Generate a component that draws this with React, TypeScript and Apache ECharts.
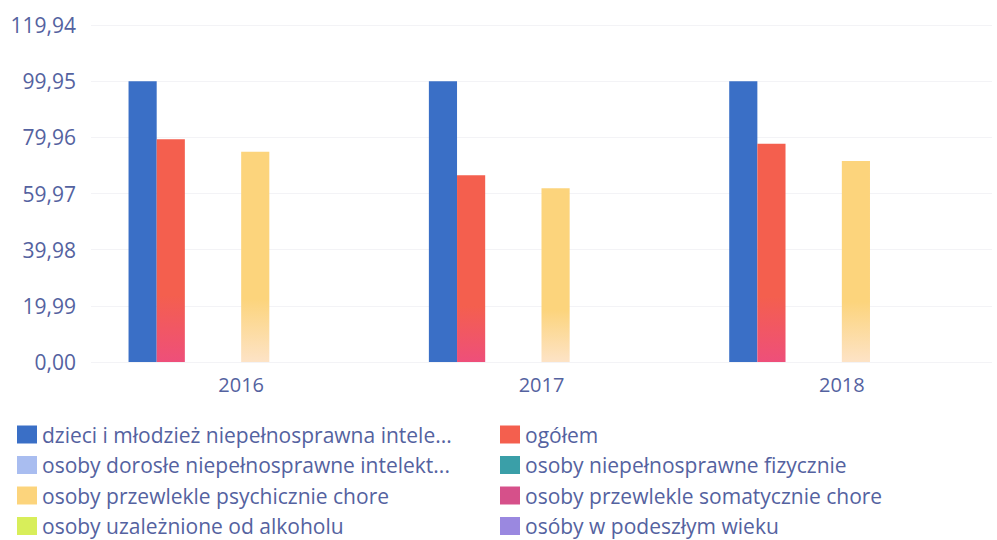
import React, { useEffect, useRef } from "react";
import * as echarts from "echarts";

const categories = ["2016", "2017", "2018"];
const seriesNames = [
  "dzieci i młodzież niepełnosprawna intelektualnie",
  "ogółem",
  "osoby dorosłe niepełnosprawne intelektualnie",
  "osoby niepełnosprawne fizycznie",
  "osoby przewlekle psychicznie chore",
  "osoby przewlekle somatycznie chore",
  "osoby uzależnione od alkoholu",
  "osóby w podeszłym wieku",
];
const legendLabels = [
  "dzieci i młodzież niepełnosprawna intele...",
  "ogółem",
  "osoby dorosłe niepełnosprawne intelekt...",
  "osoby niepełnosprawne fizycznie",
  "osoby przewlekle psychicznie chore",
  "osoby przewlekle somatycznie chore",
  "osoby uzależnione od alkoholu",
  "osóby w podeszłym wieku",
];
const dzieci = [99.95, 99.95, 99.95];
const ogolem = [79.3, 66.5, 77.7];
const dorosle = [null, null, null];
const fizyczne = [null, null, null];
const psychiczne = [74.8, 61.8, 71.5];
const somatyczne = [null, null, null];
const alkohol = [null, null, null];
const podeszly = [null, null, null];
const seriesValues = [dzieci, ogolem, dorosle, fizyczne, psychiczne, somatyczne, alkohol, podeszly];
const yTicks = [0, 19.99, 39.98, 59.97, 79.96, 99.95, 119.94];

const topColors = ["#3a6fc6", "#f45f4e", "#a9bdf0", "#3a9fa8", "#fcd47c", "#d6508a", "#d8ee5a", "#9a88e0"];
const bottomColors = ["#3a6fc6", "#ee4f7a", "#a9bdf0", "#3a9fa8", "#fde3c6", "#d6508a", "#d8ee5a", "#9a88e0"];

export default function App() {
  const ref = useRef<HTMLDivElement>(null);
  useEffect(() => {
    document.body.style.margin = "0";
    const chart = echarts.init(ref.current!, null, { renderer: "svg" });
    const textColor = "#5462a0";
    const font = "'Open Sans', 'Noto Sans', sans-serif";
    const series = seriesNames.map((name, i) => ({
      name,
      type: "bar",
      data: seriesValues[i],
      barGap: "0%",
      barCategoryGap: "25%",
      itemStyle: {
        color: new echarts.graphic.LinearGradient(0, 0, 0, 1, [
          { offset: 0, color: topColors[i] },
          { offset: 0.7, color: topColors[i] },
          { offset: 1, color: bottomColors[i] },
        ]),
      },
    }));
    const legendItem = (idx: number[]) =>
      idx.map((i) => ({ name: seriesNames[i], itemStyle: { color: topColors[i] } }));
    const fmt = (n: string) => legendLabels[seriesNames.indexOf(n)];
    const legendCommon = {
      orient: "vertical",
      top: 424,
      height: 125,
      padding: 0,
      itemWidth: 20,
      itemHeight: 18,
      itemGap: 9.5,
      icon: "rect",
      formatter: fmt,
      textStyle: { color: textColor, fontSize: 21, lineHeight: 20, fontFamily: font },
      selectedMode: false,
    };
    chart.setOption({
      animation: false,
      backgroundColor: "#ffffff",
      grid: { left: 91, right: 5, top: 25, bottom: 178, containLabel: false },
      xAxis: {
        type: "category",
        data: categories,
        axisLine: { show: false },
        axisTick: { show: false },
        axisLabel: { color: textColor, fontSize: 20, fontFamily: font, margin: 12 },
      },
      yAxis: {
        type: "value",
        min: 0,
        max: yTicks[yTicks.length - 1],
        interval: yTicks[1],
        axisLine: { show: false },
        axisTick: { show: false },
        splitLine: { lineStyle: { color: "#f3f3f6" } },
        axisLabel: {
          color: textColor,
          fontSize: 21,
          fontFamily: font,
          margin: 15,
          formatter: (v: number) => v.toFixed(2).replace(".", ","),
        },
      },
      legend: [
        { ...legendCommon, left: 17, data: legendItem([0, 2, 4, 6]) },
        { ...legendCommon, left: 500, data: legendItem([1, 3, 5, 7]) },
      ],
      series,
    });
    return () => chart.dispose();
  }, []);
  return <div ref={ref} style={{ width: 997, height: 540 }} />;
}
